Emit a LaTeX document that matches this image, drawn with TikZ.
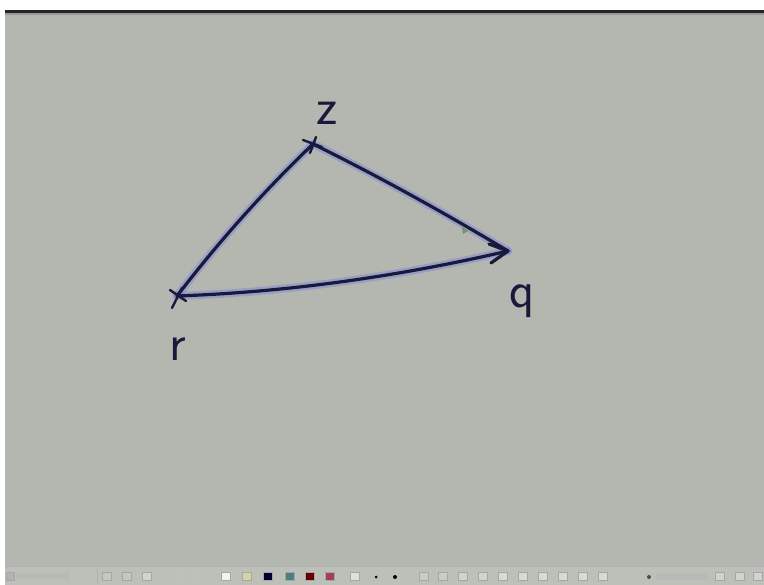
\documentclass[tikz,border=0pt]{standalone}
\usetikzlibrary{arrows.meta}
\definecolor{board}{HTML}{B4B7AF}
\definecolor{ink}{HTML}{181A3C}
\definecolor{glow}{HTML}{6E72EE}
\definecolor{bar}{HTML}{BDBFB9}
\tikzset{
  glowline/.style={draw=glow, line width=8pt, opacity=0.35, line cap=round, line join=round},
  inkline/.style={draw=ink, line width=3.2pt, line cap=round, line join=round},
  lbl/.style={text=ink, font=\fontsize{52}{52}\selectfont\sffamily, inner sep=0pt},
  icon/.style={minimum width=9pt, minimum height=8pt, inner sep=0pt, draw=gray!70}
}
\begin{document}
\begin{tikzpicture}[x=1pt,y=-1pt]
\useasboundingbox (0,0) rectangle (764,585);
\fill[white] (0,0) rectangle (764,585);
\fill[board] (5,12) rectangle (764,585);
\fill[black!85] (5,10) rectangle (764,13);
\fill[black!40] (5,13) rectangle (764,15);
% taskbar
\fill[bar] (5,566) rectangle (764,585);
\fill[gray!60] (5,565.5) rectangle (764,566.5);

\coordinate (r) at (177,296);
\coordinate (z) at (313,144);
\coordinate (q) at (508,251);

% glow
\path[glowline] (r) .. controls (220,240) and (266,189) .. (z);
\path[glowline] (z) .. controls (378,176) and (443,212) .. (q);
\path[glowline] (r) .. controls (290,292) and (400,276) .. (q);
% ink
\draw[inkline] (r) .. controls (220,240) and (266,189) .. (z);
\draw[inkline] (z) .. controls (378,176) and (443,212) .. (q);
\draw[inkline] (r) .. controls (290,292) and (400,276) .. (q);
% arrowhead at q
\coordinate (qa) at (489,244);
\coordinate (qb) at (491,263);
\draw[inkline] (qa) -- (q) -- (qb);
% cross marks
\draw[inkline, line width=2.4pt] (170,290) -- (186,301);
\draw[inkline, line width=2.4pt] (172,308) -- (182,288);
\draw[inkline, line width=2.4pt] (303,140) -- (322,147);
\draw[inkline, line width=2.4pt] (310,153) -- (316,137);

% labels
\node[lbl] (zl) at (327,113) {z};
\node[lbl] (ql) at (522,301) {q};
\node[lbl] (rl) at (178,349) {r};

% cursor mark
\fill[gray!80!green] (462,227) -- (468,231) -- (463,234) -- cycle;

% taskbar icons
\node[icon, minimum width=8pt, fill=gray!60] (s0) at (10,576) {};
\fill[gray!55] (16,573) rectangle (70,579);
\draw[gray!60] (97,568) -- (97,584);
\node[icon, fill=gray!45] (i1) at (107,576) {};
\node[icon, fill=gray!45] (i2) at (127,576) {};
\node[icon, fill=gray!35] (i3) at (147,576) {};
\node[icon, fill=gray!50, draw=none] (i4) at (176,576) {};
\node[icon, fill=gray!50, draw=none] (i5) at (197,576) {};
\node[icon, fill=white!90!gray] (c1) at (226,576) {};
\node[icon, fill=yellow!40!gray!60] (c2) at (247,576) {};
\node[icon, fill=black!80!blue] (c3) at (268,576) {};
\node[icon, fill=teal!40!gray] (c4) at (290,576) {};
\node[icon, fill=red!40!black] (c5) at (310,576) {};
\node[icon, fill=purple!50!gray] (c6) at (330,576) {};
\node[icon, fill=gray!25] (c7) at (355,576) {};
\fill[black] (376,577) circle (1.5);
\fill[black] (395,577) circle (2);
\node[icon, fill=gray!40] (p1) at (424,576) {};
\node[icon, fill=gray!40] (p2) at (443,576) {};
\node[icon, fill=gray!35] (p3) at (463,576) {};
\node[icon, fill=gray!35] (p4) at (483,576) {};
\node[icon, fill=gray!30] (p5) at (503,576) {};
\node[icon, fill=gray!30] (p6) at (523,576) {};
\node[icon, fill=gray!30] (p7) at (543,576) {};
\node[icon, fill=gray!30] (p8) at (563,576) {};
\node[icon, fill=gray!30] (p9) at (583,576) {};
\node[icon, fill=gray!30] (p10) at (603,576) {};
\fill[black!70] (649,577) circle (2);
\fill[gray!55] (656,573) rectangle (708,580);
\node[icon, fill=gray!35] (e1) at (720,576) {};
\node[icon, fill=gray!35] (e2) at (740,576) {};
\node[icon, fill=gray!35] (e3) at (758,576) {};
\end{tikzpicture}
\end{document}
